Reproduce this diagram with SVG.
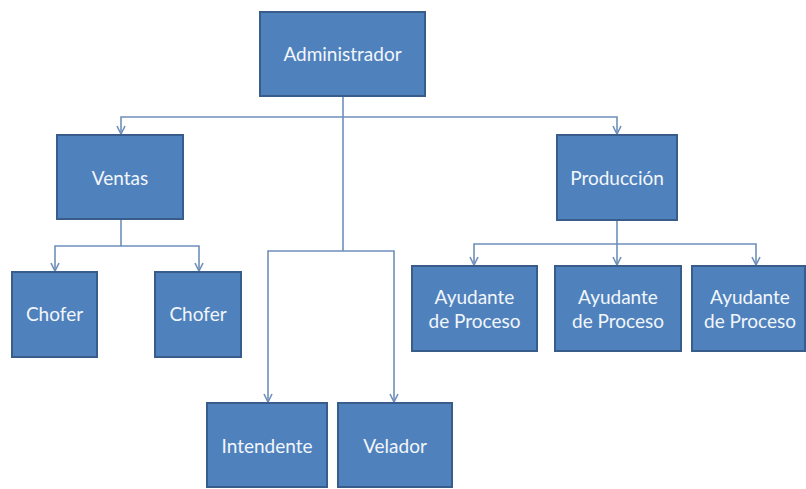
<svg xmlns="http://www.w3.org/2000/svg" width="806" height="489" viewBox="0 0 806 489">
<defs>
<style>
.n{fill:#4F81BD;stroke:#385D8A;stroke-width:2}
.t{font-family:Lato,"Open Sans","Liberation Sans",sans-serif;font-size:19px;fill:#F2F6FB;text-anchor:middle}
.c{fill:none;stroke:#6F8FBA;stroke-width:1.6}
</style>
<marker id="a" viewBox="0 0 10 10" refX="9" refY="5" markerWidth="10" markerHeight="10" markerUnits="userSpaceOnUse" orient="auto">
<path d="M1,1 L9,5 L1,9" fill="none" stroke="#6F8FBA" stroke-width="1.6"/>
</marker>
</defs>
<rect width="806" height="489" fill="#FFFFFF"/>
<g id="connectors">
<path class="c" d="M343,96 V251"/>
<path class="c" d="M343,117 H121 V134" marker-end="url(#a)"/>
<path class="c" d="M343,117 H617 V134" marker-end="url(#a)"/>
<path class="c" d="M343,251 H268 V402" marker-end="url(#a)"/>
<path class="c" d="M343,251 H394 V402" marker-end="url(#a)"/>
<path class="c" d="M121,219 V246 H55 V271" marker-end="url(#a)"/>
<path class="c" d="M121,246 H199 V271" marker-end="url(#a)"/>
<path class="c" d="M617,220 V265" marker-end="url(#a)"/>
<path class="c" d="M617,244 H474 V265" marker-end="url(#a)"/>
<path class="c" d="M617,244 H756 V265" marker-end="url(#a)"/>
</g>
<g id="administrador"><rect class="n" x="260" y="12" width="165" height="84"/><text class="t" x="342.5" y="61">Administrador</text></g>
<g id="ventas"><rect class="n" x="57" y="135" width="126" height="84"/><text class="t" x="120" y="185">Ventas</text></g>
<g id="produccion"><rect class="n" x="557" y="135" width="120" height="85"/><text class="t" x="617" y="185">Producción</text></g>
<g id="chofer1"><rect class="n" x="12" y="272" width="85" height="85"/><text class="t" x="54.5" y="321">Chofer</text></g>
<g id="chofer2"><rect class="n" x="155" y="272" width="86" height="85"/><text class="t" x="198" y="321">Chofer</text></g>
<g id="ayudante1"><rect class="n" x="412" y="266" width="125" height="85"/><text class="t" x="474.5" y="304">Ayudante</text><text class="t" x="474.5" y="328">de Proceso</text></g>
<g id="ayudante2"><rect class="n" x="555" y="266" width="126" height="85"/><text class="t" x="618" y="304">Ayudante</text><text class="t" x="618" y="328">de Proceso</text></g>
<g id="ayudante3"><rect class="n" x="692" y="266" width="113" height="85"/><text class="t" x="750" y="304">Ayudante</text><text class="t" x="750" y="328">de Proceso</text></g>
<g id="intendente"><rect class="n" x="207" y="403" width="120" height="84"/><text class="t" x="267" y="453">Intendente</text></g>
<g id="velador"><rect class="n" x="338" y="403" width="114" height="84"/><text class="t" x="395" y="453">Velador</text></g>
</svg>
